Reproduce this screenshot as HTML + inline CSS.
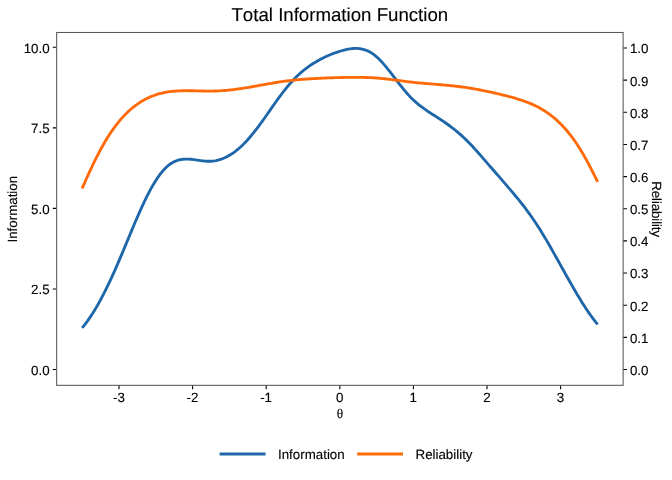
<!DOCTYPE html>
<html lang="en"><head><meta charset="utf-8"><title>Total Information Function</title>
<style>
html,body{margin:0;padding:0;background:#fff;}
body{width:672px;height:480px;overflow:hidden;}
svg{display:block;}
text{white-space:pre;font-kerning:none;text-rendering:geometricPrecision;stroke:#000;stroke-width:0.12px;}
</style></head>
<body>
<svg width="672" height="480" viewBox="0 0 672 480" font-family="'Liberation Sans', sans-serif" font-size="13.33px" fill="#000000">
<rect x="0" y="0" width="672" height="480" fill="#ffffff"/>
<path d="M82.10,327.92 L83.82,325.86 L85.54,323.67 L87.26,321.36 L88.97,318.94 L90.69,316.40 L92.41,313.75 L94.13,311.00 L95.85,308.14 L97.57,305.17 L99.28,302.11 L101.00,298.95 L102.72,295.69 L104.44,292.35 L106.16,288.92 L107.88,285.40 L109.60,281.80 L111.31,278.13 L113.03,274.37 L114.75,270.55 L116.47,266.65 L118.19,262.69 L119.91,258.67 L121.63,254.61 L123.34,250.51 L125.06,246.39 L126.78,242.26 L128.50,238.12 L130.22,233.99 L131.94,229.88 L133.66,225.80 L135.37,221.75 L137.09,217.76 L138.81,213.83 L140.53,209.98 L142.25,206.20 L143.97,202.52 L145.68,198.94 L147.40,195.48 L149.12,192.14 L150.84,188.94 L152.56,185.89 L154.28,182.98 L156.00,180.24 L157.71,177.65 L159.43,175.23 L161.15,172.97 L162.87,170.89 L164.59,168.99 L166.31,167.27 L168.02,165.74 L169.74,164.39 L171.46,163.23 L173.18,162.23 L174.90,161.40 L176.62,160.71 L178.34,160.16 L180.05,159.74 L181.77,159.43 L183.49,159.23 L185.21,159.12 L186.93,159.10 L188.65,159.15 L190.37,159.26 L192.08,159.42 L193.80,159.62 L195.52,159.85 L197.24,160.09 L198.96,160.34 L200.68,160.58 L202.39,160.80 L204.11,160.99 L205.83,161.14 L207.55,161.24 L209.27,161.27 L210.99,161.22 L212.71,161.10 L214.42,160.88 L216.14,160.58 L217.86,160.19 L219.58,159.71 L221.30,159.15 L223.02,158.50 L224.74,157.77 L226.45,156.95 L228.17,156.04 L229.89,155.05 L231.61,153.97 L233.33,152.81 L235.05,151.56 L236.76,150.22 L238.48,148.80 L240.20,147.30 L241.92,145.71 L243.64,144.04 L245.36,142.28 L247.08,140.44 L248.79,138.52 L250.51,136.52 L252.23,134.45 L253.95,132.32 L255.67,130.13 L257.39,127.89 L259.11,125.59 L260.82,123.25 L262.54,120.87 L264.26,118.46 L265.98,116.01 L267.70,113.55 L269.42,111.08 L271.13,108.61 L272.85,106.15 L274.57,103.71 L276.29,101.28 L278.01,98.90 L279.73,96.55 L281.45,94.26 L283.16,92.01 L284.88,89.83 L286.60,87.70 L288.32,85.63 L290.04,83.63 L291.76,81.70 L293.48,79.84 L295.19,78.05 L296.91,76.34 L298.63,74.71 L300.35,73.15 L302.07,71.66 L303.79,70.25 L305.50,68.89 L307.22,67.60 L308.94,66.37 L310.66,65.18 L312.38,64.05 L314.10,62.97 L315.82,61.92 L317.53,60.92 L319.25,59.96 L320.97,59.04 L322.69,58.16 L324.41,57.32 L326.13,56.51 L327.85,55.74 L329.56,55.00 L331.28,54.30 L333.00,53.63 L334.72,52.99 L336.44,52.38 L338.16,51.81 L339.88,51.26 L341.59,50.75 L343.31,50.26 L345.03,49.82 L346.75,49.43 L348.47,49.09 L350.19,48.82 L351.90,48.61 L353.62,48.47 L355.34,48.41 L357.06,48.44 L358.78,48.56 L360.50,48.78 L362.22,49.11 L363.93,49.54 L365.65,50.10 L367.37,50.78 L369.09,51.59 L370.81,52.54 L372.53,53.64 L374.25,54.88 L375.96,56.28 L377.68,57.82 L379.40,59.49 L381.12,61.27 L382.84,63.16 L384.56,65.14 L386.27,67.20 L387.99,69.31 L389.71,71.48 L391.43,73.68 L393.15,75.90 L394.87,78.14 L396.59,80.37 L398.30,82.60 L400.02,84.81 L401.74,86.99 L403.46,89.12 L405.18,91.20 L406.90,93.21 L408.62,95.13 L410.33,96.95 L412.05,98.68 L413.77,100.32 L415.49,101.88 L417.21,103.37 L418.93,104.79 L420.64,106.15 L422.36,107.45 L424.08,108.70 L425.80,109.91 L427.52,111.09 L429.24,112.24 L430.96,113.36 L432.67,114.47 L434.39,115.57 L436.11,116.66 L437.83,117.76 L439.55,118.86 L441.27,119.98 L442.99,121.13 L444.70,122.30 L446.42,123.50 L448.14,124.73 L449.86,126.00 L451.58,127.30 L453.30,128.64 L455.01,130.01 L456.73,131.42 L458.45,132.88 L460.17,134.37 L461.89,135.91 L463.61,137.49 L465.33,139.12 L467.04,140.79 L468.76,142.52 L470.48,144.29 L472.20,146.10 L473.92,147.96 L475.64,149.85 L477.36,151.77 L479.07,153.71 L480.79,155.67 L482.51,157.65 L484.23,159.63 L485.95,161.61 L487.67,163.59 L489.38,165.57 L491.10,167.54 L492.82,169.51 L494.54,171.48 L496.26,173.46 L497.98,175.43 L499.70,177.40 L501.41,179.38 L503.13,181.35 L504.85,183.34 L506.57,185.32 L508.29,187.32 L510.01,189.33 L511.73,191.36 L513.44,193.40 L515.16,195.47 L516.88,197.56 L518.60,199.67 L520.32,201.82 L522.04,204.00 L523.75,206.22 L525.47,208.48 L527.19,210.78 L528.91,213.13 L530.63,215.53 L532.35,217.97 L534.07,220.48 L535.78,223.04 L537.50,225.66 L539.22,228.35 L540.94,231.09 L542.66,233.89 L544.38,236.74 L546.10,239.63 L547.81,242.57 L549.53,245.54 L551.25,248.55 L552.97,251.58 L554.69,254.63 L556.41,257.70 L558.12,260.78 L559.84,263.87 L561.56,266.96 L563.28,270.05 L565.00,273.14 L566.72,276.21 L568.44,279.27 L570.15,282.31 L571.87,285.33 L573.59,288.31 L575.31,291.26 L577.03,294.17 L578.75,297.04 L580.46,299.86 L582.18,302.63 L583.90,305.33 L585.62,307.98 L587.34,310.56 L589.06,313.07 L590.78,315.50 L592.49,317.85 L594.21,320.12 L595.93,322.29 L597.65,324.37" fill="none" stroke="#1D66A9" stroke-width="2.85" stroke-linejoin="round" stroke-linecap="butt"/>
<path d="M82.10,188.36 L83.82,184.54 L85.54,180.72 L87.26,176.91 L88.97,173.14 L90.69,169.42 L92.41,165.76 L94.13,162.18 L95.85,158.69 L97.57,155.29 L99.28,151.99 L101.00,148.79 L102.72,145.70 L104.44,142.71 L106.16,139.83 L107.88,137.05 L109.60,134.38 L111.31,131.81 L113.03,129.34 L114.75,126.97 L116.47,124.69 L118.19,122.51 L119.91,120.42 L121.63,118.42 L123.34,116.51 L125.06,114.69 L126.78,112.96 L128.50,111.32 L130.22,109.76 L131.94,108.28 L133.66,106.88 L135.37,105.56 L137.09,104.31 L138.81,103.13 L140.53,102.02 L142.25,100.98 L143.97,100.00 L145.68,99.08 L147.40,98.23 L149.12,97.43 L150.84,96.68 L152.56,95.99 L154.28,95.36 L156.00,94.77 L157.71,94.23 L159.43,93.74 L161.15,93.28 L162.87,92.88 L164.59,92.51 L166.31,92.18 L168.02,91.90 L169.74,91.65 L171.46,91.43 L173.18,91.25 L174.90,91.10 L176.62,90.98 L178.34,90.88 L180.05,90.81 L181.77,90.75 L183.49,90.72 L185.21,90.70 L186.93,90.70 L188.65,90.70 L190.37,90.72 L192.08,90.75 L193.80,90.79 L195.52,90.83 L197.24,90.87 L198.96,90.91 L200.68,90.96 L202.39,91.00 L204.11,91.03 L205.83,91.06 L207.55,91.07 L209.27,91.08 L210.99,91.07 L212.71,91.05 L214.42,91.01 L216.14,90.96 L217.86,90.89 L219.58,90.80 L221.30,90.70 L223.02,90.59 L224.74,90.46 L226.45,90.32 L228.17,90.16 L229.89,89.99 L231.61,89.81 L233.33,89.62 L235.05,89.41 L236.76,89.19 L238.48,88.96 L240.20,88.72 L241.92,88.46 L243.64,88.20 L245.36,87.93 L247.08,87.65 L248.79,87.36 L250.51,87.06 L252.23,86.76 L253.95,86.45 L255.67,86.14 L257.39,85.83 L259.11,85.51 L260.82,85.20 L262.54,84.88 L264.26,84.57 L265.98,84.26 L267.70,83.95 L269.42,83.64 L271.13,83.34 L272.85,83.05 L274.57,82.76 L276.29,82.48 L278.01,82.21 L279.73,81.94 L281.45,81.69 L283.16,81.45 L284.88,81.21 L286.60,80.99 L288.32,80.77 L290.04,80.57 L291.76,80.37 L293.48,80.18 L295.19,80.00 L296.91,79.84 L298.63,79.68 L300.35,79.53 L302.07,79.38 L303.79,79.25 L305.50,79.12 L307.22,79.00 L308.94,78.89 L310.66,78.78 L312.38,78.68 L314.10,78.58 L315.82,78.49 L317.53,78.40 L319.25,78.31 L320.97,78.23 L322.69,78.15 L324.41,78.08 L326.13,78.01 L327.85,77.94 L329.56,77.88 L331.28,77.82 L333.00,77.76 L334.72,77.70 L336.44,77.65 L338.16,77.60 L339.88,77.56 L341.59,77.51 L343.31,77.47 L345.03,77.44 L346.75,77.40 L348.47,77.38 L350.19,77.35 L351.90,77.34 L353.62,77.32 L355.34,77.32 L357.06,77.32 L358.78,77.33 L360.50,77.35 L362.22,77.38 L363.93,77.41 L365.65,77.46 L367.37,77.52 L369.09,77.59 L370.81,77.67 L372.53,77.76 L374.25,77.87 L375.96,77.99 L377.68,78.12 L379.40,78.27 L381.12,78.43 L382.84,78.60 L384.56,78.78 L386.27,78.97 L387.99,79.16 L389.71,79.37 L391.43,79.58 L393.15,79.79 L394.87,80.01 L396.59,80.24 L398.30,80.46 L400.02,80.69 L401.74,80.91 L403.46,81.14 L405.18,81.36 L406.90,81.58 L408.62,81.79 L410.33,81.99 L412.05,82.18 L413.77,82.37 L415.49,82.55 L417.21,82.72 L418.93,82.89 L420.64,83.05 L422.36,83.20 L424.08,83.35 L425.80,83.50 L427.52,83.64 L429.24,83.78 L430.96,83.92 L432.67,84.06 L434.39,84.20 L436.11,84.34 L437.83,84.48 L439.55,84.62 L441.27,84.77 L442.99,84.92 L444.70,85.07 L446.42,85.23 L448.14,85.40 L449.86,85.57 L451.58,85.75 L453.30,85.93 L455.01,86.12 L456.73,86.32 L458.45,86.53 L460.17,86.75 L461.89,86.97 L463.61,87.20 L465.33,87.45 L467.04,87.70 L468.76,87.96 L470.48,88.24 L472.20,88.52 L473.92,88.82 L475.64,89.13 L477.36,89.44 L479.07,89.77 L480.79,90.10 L482.51,90.44 L484.23,90.79 L485.95,91.14 L487.67,91.50 L489.38,91.86 L491.10,92.23 L492.82,92.61 L494.54,92.99 L496.26,93.38 L497.98,93.78 L499.70,94.18 L501.41,94.59 L503.13,95.01 L504.85,95.43 L506.57,95.87 L508.29,96.32 L510.01,96.77 L511.73,97.24 L513.44,97.73 L515.16,98.22 L516.88,98.74 L518.60,99.27 L520.32,99.82 L522.04,100.39 L523.75,100.99 L525.47,101.61 L527.19,102.25 L528.91,102.93 L530.63,103.63 L532.35,104.38 L534.07,105.15 L535.78,105.97 L537.50,106.84 L539.22,107.75 L540.94,108.71 L542.66,109.72 L544.38,110.79 L546.10,111.91 L547.81,113.09 L549.53,114.33 L551.25,115.63 L552.97,116.99 L554.69,118.42 L556.41,119.92 L558.12,121.50 L559.84,123.14 L561.56,124.87 L563.28,126.67 L565.00,128.56 L566.72,130.53 L568.44,132.60 L570.15,134.75 L571.87,137.00 L573.59,139.34 L575.31,141.78 L577.03,144.32 L578.75,146.96 L580.46,149.69 L582.18,152.53 L583.90,155.47 L585.62,158.51 L587.34,161.63 L589.06,164.85 L590.78,168.14 L592.49,171.51 L594.21,174.94 L595.93,178.41 L597.65,181.92" fill="none" stroke="#FF6A08" stroke-width="2.85" stroke-linejoin="round" stroke-linecap="butt"/>
<path d="M52.79,369.50H56.66M52.79,288.95H56.66M52.79,208.40H56.66M52.79,127.85H56.66M52.79,47.30H56.66M623.12,369.50H626.99M623.12,337.35H626.99M623.12,305.20H626.99M623.12,273.05H626.99M623.12,240.90H626.99M623.12,208.75H626.99M623.12,176.60H626.99M623.12,144.45H626.99M623.12,112.30H626.99M623.12,80.15H626.99M623.12,48.00H626.99M119.00,385.33V389.20M192.60,385.33V389.20M266.20,385.33V389.20M339.80,385.33V389.20M413.40,385.33V389.20M487.00,385.33V389.20M560.60,385.33V389.20" fill="none" stroke="#000000" stroke-width="1.1"/>
<rect x="56.66" y="32.5" width="566.46" height="352.83" fill="none" stroke="#595959" stroke-width="1.07"/>
<g text-anchor="end">
<text x="49.6" y="375">0.0</text>
<text x="49.6" y="294">2.5</text>
<text x="49.6" y="214">5.0</text>
<text x="49.6" y="133">7.5</text>
<text x="49.6" y="53">10.0</text>
</g>
<g text-anchor="start">
<text x="629.9" y="375">0.0</text>
<text x="629.9" y="343">0.1</text>
<text x="629.9" y="311">0.2</text>
<text x="629.9" y="278">0.3</text>
<text x="629.9" y="246">0.4</text>
<text x="629.9" y="214">0.5</text>
<text x="629.9" y="182">0.6</text>
<text x="629.9" y="150">0.7</text>
<text x="629.9" y="118">0.8</text>
<text x="629.9" y="86">0.9</text>
<text x="629.9" y="53">1.0</text>
</g>
<g text-anchor="middle">
<text x="118.90" y="402">-3</text>
<text x="192.50" y="402">-2</text>
<text x="266.10" y="402">-1</text>
<text x="339.70" y="402">0</text>
<text x="413.30" y="402">1</text>
<text x="486.90" y="402">2</text>
<text x="560.50" y="402">3</text>
</g>
<text x="339.85" y="21" font-size="18.67px" text-anchor="middle">Total Information Function</text>
<text transform="translate(16.6,209.2) rotate(-90)" text-anchor="middle">Information</text>
<text transform="translate(652.3,209.1) rotate(90)" text-anchor="middle" letter-spacing="-0.12">Reliability</text>
<text x="339.9" y="418.0" font-family="'Liberation Serif', serif" font-size="13.33px" text-anchor="middle">θ</text>
<path d="M219.6,453.95H265.6" stroke="#1D66A9" stroke-width="2.85" fill="none"/>
<path d="M357.2,453.95H403.0" stroke="#FF6A08" stroke-width="2.85" fill="none"/>
<text x="278.0" y="459">Information</text>
<text x="415.5" y="459">Reliability</text>
</svg>
</body></html>
